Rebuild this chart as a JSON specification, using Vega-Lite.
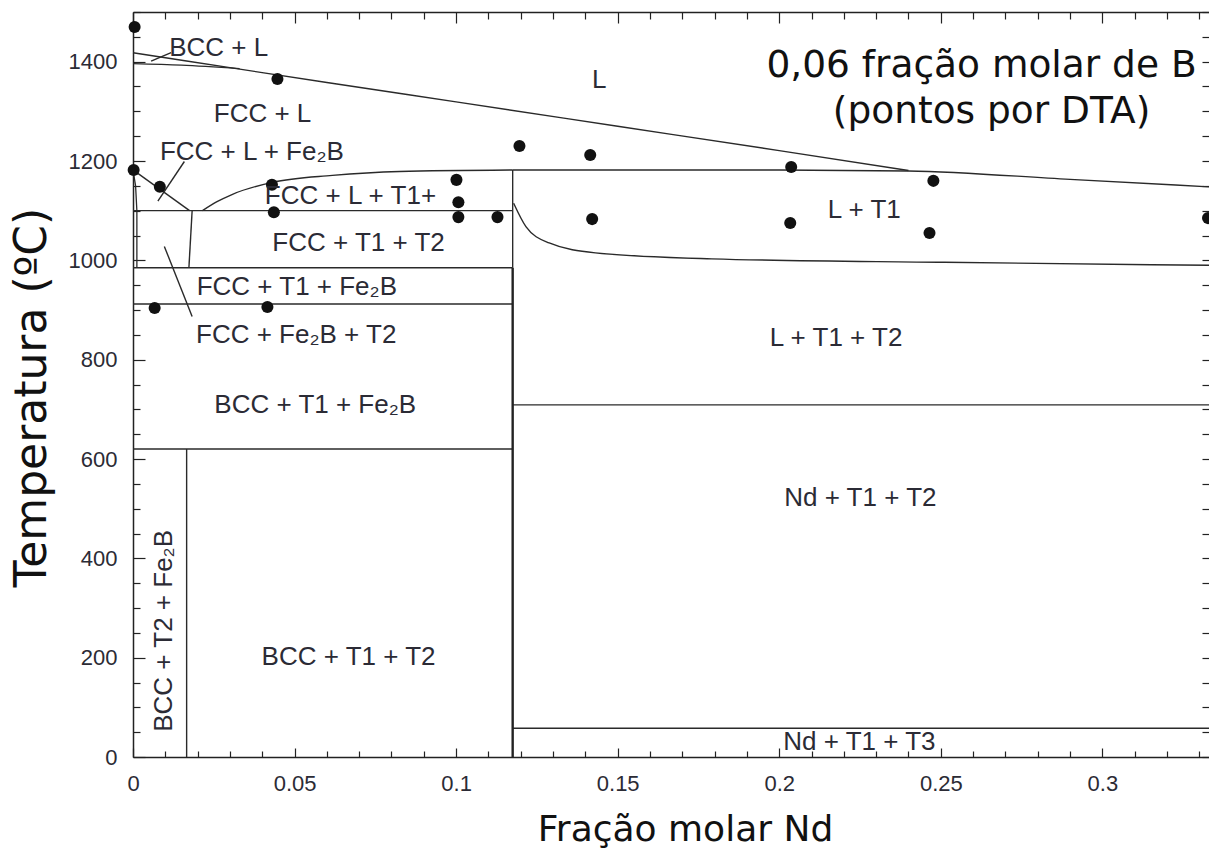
{
  "$schema": "https://vega.github.io/schema/vega-lite/v6.json",
  "width": 1076,
  "height": 745,
  "autosize": {"type": "none"},
  "padding": {"left": 133, "top": 12, "right": 0, "bottom": 91},
  "background": "white",
  "config": {
    "view": {"stroke": null},
    "axis": {
      "grid": false,
      "domainColor": "#222222",
      "domainWidth": 1.5,
      "tickColor": "#222222",
      "tickWidth": 1.2,
      "labelFont": "Liberation Sans",
      "labelFontSize": 22,
      "labelColor": "#2b2b35",
      "titleFont": "DejaVu Sans",
      "titleFontWeight": "normal",
      "titleColor": "#111111"
    }
  },
  "datasets": {
    "segs": [
      {"x": 0, "x2": 0.0175, "T": 1182, "T2": 1100},
      {"x": 0, "x2": 0.1175, "T": 1100, "T2": 1100},
      {"x": 0.0183, "x2": 0.0173, "T": 1100, "T2": 985},
      {"x": 0, "x2": 0.1175, "T": 985, "T2": 985},
      {"x": 0, "x2": 0.1175, "T": 912, "T2": 912},
      {"x": 0, "x2": 0.1175, "T": 620, "T2": 620},
      {"x": 0.0166, "x2": 0.0166, "T": 620, "T2": 0},
      {"x": 0.1175, "x2": 0.1175, "T": 1182, "T2": 985},
      {"x": 0.1175, "x2": 0.333, "T": 709, "T2": 709},
      {"x": 0.1175, "x2": 0.333, "T": 58, "T2": 58},
      {"x": 0.0056, "x2": 0.0118, "T": 1401, "T2": 1418},
      {"x": 0.0159, "x2": 0.0077, "T": 1199, "T2": 1119},
      {"x": 0.0097, "x2": 0.0183, "T": 1028, "T2": 887}
    ],
    "thick": [
      {"x": 0.1175, "x2": 0.1175, "T": 985, "T2": 0}
    ],
    "curves": [
      {"c": "liq", "i": 1, "x": 0, "T": 1418},
      {"c": "liq", "i": 2, "x": 0.03, "T": 1388},
      {"c": "liq", "i": 3, "x": 0.06, "T": 1358},
      {"c": "liq", "i": 4, "x": 0.1, "T": 1319},
      {"c": "liq", "i": 5, "x": 0.15, "T": 1270},
      {"c": "liq", "i": 6, "x": 0.2, "T": 1221},
      {"c": "liq", "i": 7, "x": 0.24, "T": 1181},
      {"c": "sol", "i": 1, "x": 0, "T": 1396},
      {"c": "sol", "i": 2, "x": 0.015, "T": 1393},
      {"c": "sol", "i": 3, "x": 0.033, "T": 1386},
      {"c": "top", "i": 1, "x": 0.1175, "T": 1182},
      {"c": "top", "i": 2, "x": 0.2, "T": 1182},
      {"c": "top", "i": 3, "x": 0.24, "T": 1180},
      {"c": "top", "i": 4, "x": 0.29, "T": 1163},
      {"c": "top", "i": 5, "x": 0.333, "T": 1148},
      {"c": "fcc", "i": 1, "x": 0.0215, "T": 1100},
      {"c": "fcc", "i": 2, "x": 0.026, "T": 1118},
      {"c": "fcc", "i": 3, "x": 0.0308, "T": 1133},
      {"c": "fcc", "i": 4, "x": 0.0431, "T": 1157},
      {"c": "fcc", "i": 5, "x": 0.0617, "T": 1171},
      {"c": "fcc", "i": 6, "x": 0.0825, "T": 1179},
      {"c": "fcc", "i": 7, "x": 0.1175, "T": 1182},
      {"c": "lt1", "i": 1, "x": 0.1178, "T": 1115},
      {"c": "lt1", "i": 2, "x": 0.1216, "T": 1068},
      {"c": "lt1", "i": 3, "x": 0.1288, "T": 1035},
      {"c": "lt1", "i": 4, "x": 0.1431, "T": 1015},
      {"c": "lt1", "i": 5, "x": 0.1791, "T": 1003},
      {"c": "lt1", "i": 6, "x": 0.2511, "T": 996},
      {"c": "lt1", "i": 7, "x": 0.333, "T": 990}
    ],
    "edge": [
      {"i": 1, "x": 0, "T": 1182},
      {"i": 2, "x": 0.0008, "T": 1150},
      {"i": 3, "x": 0.0012, "T": 1100},
      {"i": 4, "x": 0.0012, "T": 985}
    ],
    "dots": [
      {"x": 0.0005, "T": 1470},
      {"x": 0.0447, "T": 1365},
      {"x": 0.0002, "T": 1182},
      {"x": 0.0083, "T": 1148},
      {"x": 0.043, "T": 1152},
      {"x": 0.0436, "T": 1097},
      {"x": 0.1001, "T": 1162},
      {"x": 0.1007, "T": 1117},
      {"x": 0.1007, "T": 1087},
      {"x": 0.1128, "T": 1087},
      {"x": 0.1196, "T": 1230},
      {"x": 0.1415, "T": 1212},
      {"x": 0.1421, "T": 1083},
      {"x": 0.2037, "T": 1188},
      {"x": 0.2034, "T": 1075},
      {"x": 0.2477, "T": 1160},
      {"x": 0.2465, "T": 1055},
      {"x": 0.3327, "T": 1085},
      {"x": 0.0067, "T": 904},
      {"x": 0.0416, "T": 906}
    ],
    "labels": [
      {"label": "BCC + L", "x": 0.0265, "T": 1428},
      {"label": "FCC + L", "x": 0.0401, "T": 1295},
      {"label": "FCC + L  + Fe₂B", "x": 0.0368, "T": 1219},
      {"label": "FCC + L  + T1+", "x": 0.0673, "T": 1129},
      {"label": "FCC + T1 + T2", "x": 0.0698, "T": 1035},
      {"label": "FCC + T1 + Fe₂B", "x": 0.0507, "T": 947},
      {"label": "FCC + Fe₂B + T2", "x": 0.0505, "T": 850},
      {"label": "BCC + T1 + Fe₂B", "x": 0.0564, "T": 709},
      {"label": "BCC + T1 + T2", "x": 0.0667, "T": 201},
      {"label": "L", "x": 0.1443, "T": 1364},
      {"label": "L + T1", "x": 0.2263, "T": 1102},
      {"label": "L  + T1 + T2", "x": 0.2176, "T": 843},
      {"label": "Nd + T1 + T2", "x": 0.2251, "T": 521},
      {"label": "Nd + T1 + T3", "x": 0.2248, "T": 30}
    ],
    "vlabels": [
      {"label": "BCC + T2 + Fe₂B", "x": 0.0097, "T": 254}
    ],
    "note": [
      {"label": "0,06 fração molar de B", "x": 0.2626, "T": 1369},
      {"label": "(pontos por DTA)", "x": 0.2657, "T": 1276}
    ]
  },
  "resolve": {"axis": {"x": "independent", "y": "independent"}},
  "layer": [
    {
      "data": {"name": "segs"},
      "mark": {"type": "rule", "color": "#2a2a2a", "strokeWidth": 1.4},
      "encoding": {
        "x": {
          "field": "x", "type": "quantitative",
          "scale": {"domain": [0, 0.333], "nice": false, "zero": false},
          "axis": {
            "orient": "bottom",
            "values": [0, 0.01, 0.02, 0.03, 0.04, 0.05, 0.06, 0.07, 0.08, 0.09, 0.1, 0.11, 0.12, 0.13, 0.14, 0.15, 0.16, 0.17, 0.18, 0.19, 0.2, 0.21, 0.22, 0.23, 0.24, 0.25, 0.26, 0.27, 0.28, 0.29, 0.3, 0.31, 0.32, 0.33],
            "tickSize": {"condition": {"test": "abs(datum.value*20 - round(datum.value*20)) < 0.000001", "value": -9}, "value": -6},
            "labelExpr": "abs(datum.value*20 - round(datum.value*20)) < 0.000001 ? format(datum.value, '~g') : ''",
            "labelPadding": 25,
            "labelFlush": false,
            "labelOverlap": false,
            "title": "Fração molar Nd",
            "titleFontSize": 36,
            "titleX": 552,
            "titleY": 83,
            "titleAlign": "center",
            "titleBaseline": "alphabetic"
          }
        },
        "x2": {"field": "x2"},
        "y": {
          "field": "T", "type": "quantitative",
          "scale": {"domain": [0, 1500], "nice": false, "zero": false},
          "axis": {
            "orient": "left",
            "values": [0, 50, 100, 150, 200, 250, 300, 350, 400, 450, 500, 550, 600, 650, 700, 750, 800, 850, 900, 950, 1000, 1050, 1100, 1150, 1200, 1250, 1300, 1350, 1400, 1450, 1500],
            "tickSize": {"condition": {"test": "datum.value % 200 === 0", "value": -12}, "value": -7},
            "labelExpr": "datum.value % 200 === 0 ? format(datum.value, 'd') : ''",
            "labelPadding": 28,
            "labelFlush": false,
            "labelOverlap": false,
            "title": "Temperatura (ºC)",
            "titleFontSize": 44,
            "titleAngle": 270,
            "titleX": -88,
            "titleY": 385,
            "titleAlign": "center",
            "titleBaseline": "alphabetic"
          }
        },
        "y2": {"field": "T2"}
      }
    },
    {
      "data": {"name": "thick"},
      "mark": {"type": "rule", "color": "#222222", "strokeWidth": 2.4},
      "encoding": {
        "x": {"field": "x", "type": "quantitative", "axis": null},
        "x2": {"field": "x2"},
        "y": {"field": "T", "type": "quantitative", "axis": null},
        "y2": {"field": "T2"}
      }
    },
    {
      "data": {"name": "curves"},
      "mark": {"type": "line", "color": "#2a2a2a", "strokeWidth": 1.4, "interpolate": "monotone"},
      "encoding": {
        "x": {"field": "x", "type": "quantitative", "axis": null},
        "y": {"field": "T", "type": "quantitative", "axis": null},
        "detail": {"field": "c", "type": "nominal"},
        "order": {"field": "i", "type": "quantitative"}
      }
    },
    {
      "data": {"name": "edge"},
      "mark": {"type": "line", "color": "#2a2a2a", "strokeWidth": 1.3},
      "encoding": {
        "x": {"field": "x", "type": "quantitative", "axis": null},
        "y": {"field": "T", "type": "quantitative", "axis": null},
        "order": {"field": "i", "type": "quantitative"}
      }
    },
    {
      "data": {"name": "dots"},
      "mark": {"type": "point", "filled": true, "shape": "circle", "size": 145, "color": "#111111", "opacity": 1},
      "encoding": {
        "x": {
          "field": "x", "type": "quantitative",
          "axis": {
            "orient": "top",
            "values": [0, 0.01, 0.02, 0.03, 0.04, 0.05, 0.06, 0.07, 0.08, 0.09, 0.1, 0.11, 0.12, 0.13, 0.14, 0.15, 0.16, 0.17, 0.18, 0.19, 0.2, 0.21, 0.22, 0.23, 0.24, 0.25, 0.26, 0.27, 0.28, 0.29, 0.3, 0.31, 0.32, 0.33],
            "tickSize": {"condition": {"test": "abs(datum.value*20 - round(datum.value*20)) < 0.000001", "value": -11}, "value": -7},
            "labels": false,
            "title": null
          }
        },
        "y": {
          "field": "T", "type": "quantitative",
          "axis": {
            "orient": "right",
            "values": [0, 50, 100, 150, 200, 250, 300, 350, 400, 450, 500, 550, 600, 650, 700, 750, 800, 850, 900, 950, 1000, 1050, 1100, 1150, 1200, 1250, 1300, 1350, 1400, 1450, 1500],
            "tickSize": -7,
            "domain": false,
            "labels": false,
            "title": null
          }
        }
      }
    },
    {
      "data": {"name": "labels"},
      "mark": {"type": "text", "font": "Liberation Sans", "fontSize": 26, "color": "#2b2b35", "align": "center", "baseline": "middle"},
      "encoding": {
        "x": {"field": "x", "type": "quantitative", "axis": null},
        "y": {"field": "T", "type": "quantitative", "axis": null},
        "text": {"field": "label"}
      }
    },
    {
      "data": {"name": "vlabels"},
      "mark": {"type": "text", "font": "Liberation Sans", "fontSize": 26, "color": "#2b2b35", "align": "center", "baseline": "middle", "angle": 270},
      "encoding": {
        "x": {"field": "x", "type": "quantitative", "axis": null},
        "y": {"field": "T", "type": "quantitative", "axis": null},
        "text": {"field": "label"}
      }
    },
    {
      "data": {"name": "note"},
      "mark": {"type": "text", "font": "DejaVu Sans", "fontSize": 37.5, "color": "#111111", "align": "center", "baseline": "alphabetic"},
      "encoding": {
        "x": {"field": "x", "type": "quantitative", "axis": null},
        "y": {"field": "T", "type": "quantitative", "axis": null},
        "text": {"field": "label"}
      }
    }
  ]
}
